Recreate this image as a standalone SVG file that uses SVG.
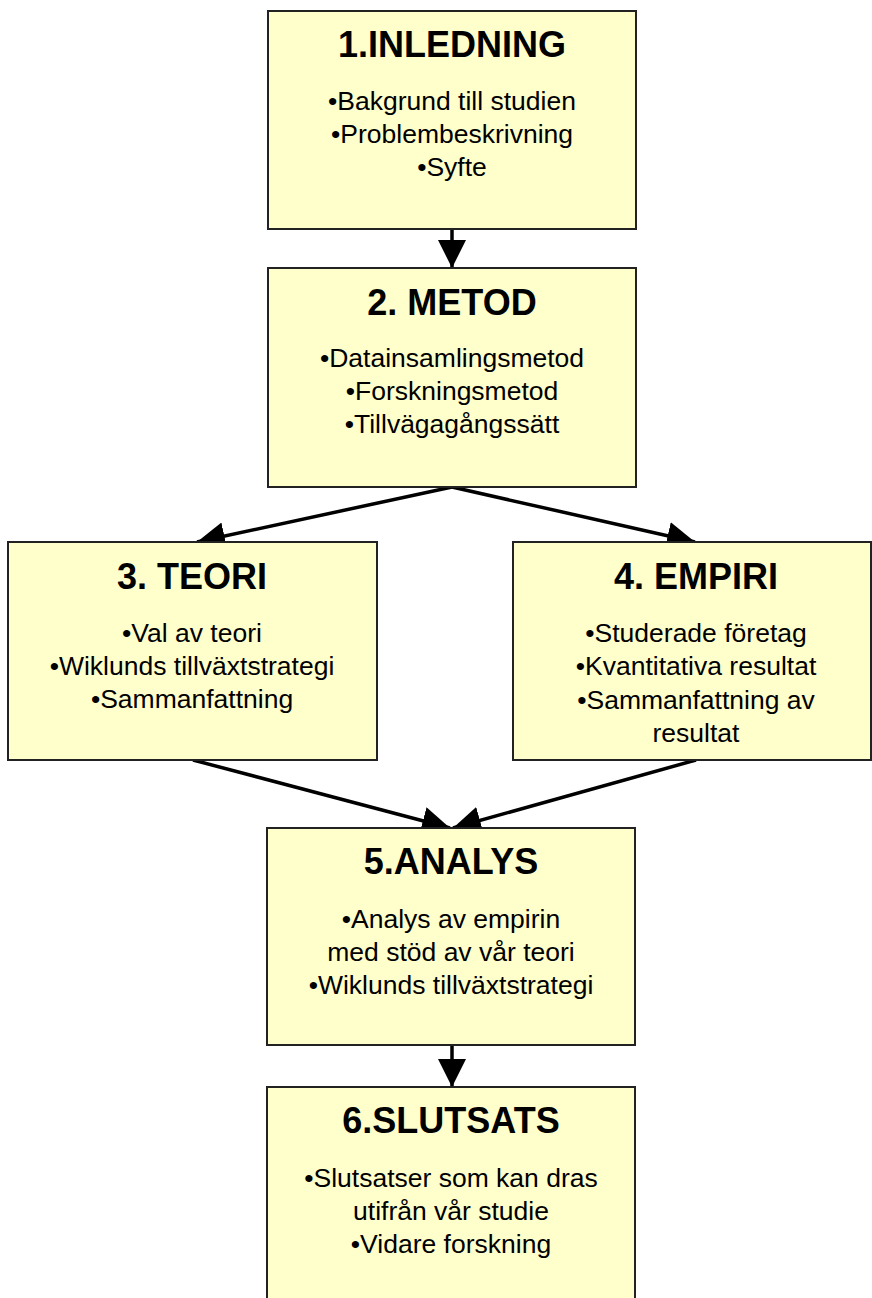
<svg xmlns="http://www.w3.org/2000/svg" width="872" height="1298" viewBox="0 0 872 1298">
<style>
.box{fill:#FFFFCC;stroke:#222;stroke-width:2}
.t{font-family:"Liberation Sans",Arial,sans-serif;font-weight:bold;font-size:36px;fill:#000;text-anchor:middle}
.b{font-family:"Liberation Sans",Arial,sans-serif;font-size:26.5px;fill:#000;text-anchor:middle}
.c{stroke:#000;stroke-width:3.5;fill:none;marker-end:url(#ah)}
</style>
<defs>
<marker id="ah" markerUnits="userSpaceOnUse" markerWidth="30" markerHeight="30" refX="28" refY="14" orient="auto" viewBox="0 0 30 30">
<path d="M0,0 L28,14 L0,28 z" fill="#000"/>
</marker>
</defs>
<rect width="872" height="1298" fill="#fff"/>
<g id="connectors">
<line class="c" x1="452" y1="229" x2="452" y2="268"/>
<line class="c" x1="452" y1="487" x2="197" y2="542"/>
<line class="c" x1="452" y1="487" x2="695" y2="542"/>
<line class="c" x1="193" y1="760" x2="450" y2="828"/>
<line class="c" x1="696" y1="760" x2="453" y2="828"/>
<line class="c" x1="452" y1="1045" x2="452" y2="1087"/>
</g>
<g id="n1">
<rect class="box" x="268" y="11" width="368" height="218"/>
<text class="t" x="452" y="57">1.INLEDNING</text>
<text class="b" x="452" y="110">•Bakgrund till studien</text>
<text class="b" x="452" y="143">•Problembeskrivning</text>
<text class="b" x="452" y="176">•Syfte</text>
</g>
<g id="n2">
<rect class="box" x="268" y="268" width="368" height="219"/>
<text class="t" x="452" y="315">2. METOD</text>
<text class="b" x="452" y="367">•Datainsamlingsmetod</text>
<text class="b" x="452" y="400">•Forskningsmetod</text>
<text class="b" x="452" y="433">•Tillvägagångssätt</text>
</g>
<g id="n3">
<rect class="box" x="8" y="542" width="369" height="218"/>
<text class="t" x="192" y="589">3. TEORI</text>
<text class="b" x="192" y="642">•Val av teori</text>
<text class="b" x="192" y="675">•Wiklunds tillväxtstrategi</text>
<text class="b" x="192" y="708">•Sammanfattning</text>
</g>
<g id="n4">
<rect class="box" x="513" y="542" width="358" height="218"/>
<text class="t" x="696" y="589">4. EMPIRI</text>
<text class="b" x="696" y="642">•Studerade företag</text>
<text class="b" x="696" y="675">•Kvantitativa resultat</text>
<text class="b" x="696" y="709">•Sammanfattning av</text>
<text class="b" x="696" y="742">resultat</text>
</g>
<g id="n5">
<rect class="box" x="267" y="828" width="368" height="217"/>
<text class="t" x="451" y="874">5.ANALYS</text>
<text class="b" x="451" y="928">•Analys av empirin</text>
<text class="b" x="451" y="961">med stöd av vår teori</text>
<text class="b" x="451" y="994">•Wiklunds tillväxtstrategi</text>
</g>
<g id="n6">
<rect class="box" x="267" y="1087" width="368" height="230"/>
<text class="t" x="451" y="1133">6.SLUTSATS</text>
<text class="b" x="451" y="1187">•Slutsatser som kan dras</text>
<text class="b" x="451" y="1220">utifrån vår studie</text>
<text class="b" x="451" y="1253">•Vidare forskning</text>
</g>
</svg>
